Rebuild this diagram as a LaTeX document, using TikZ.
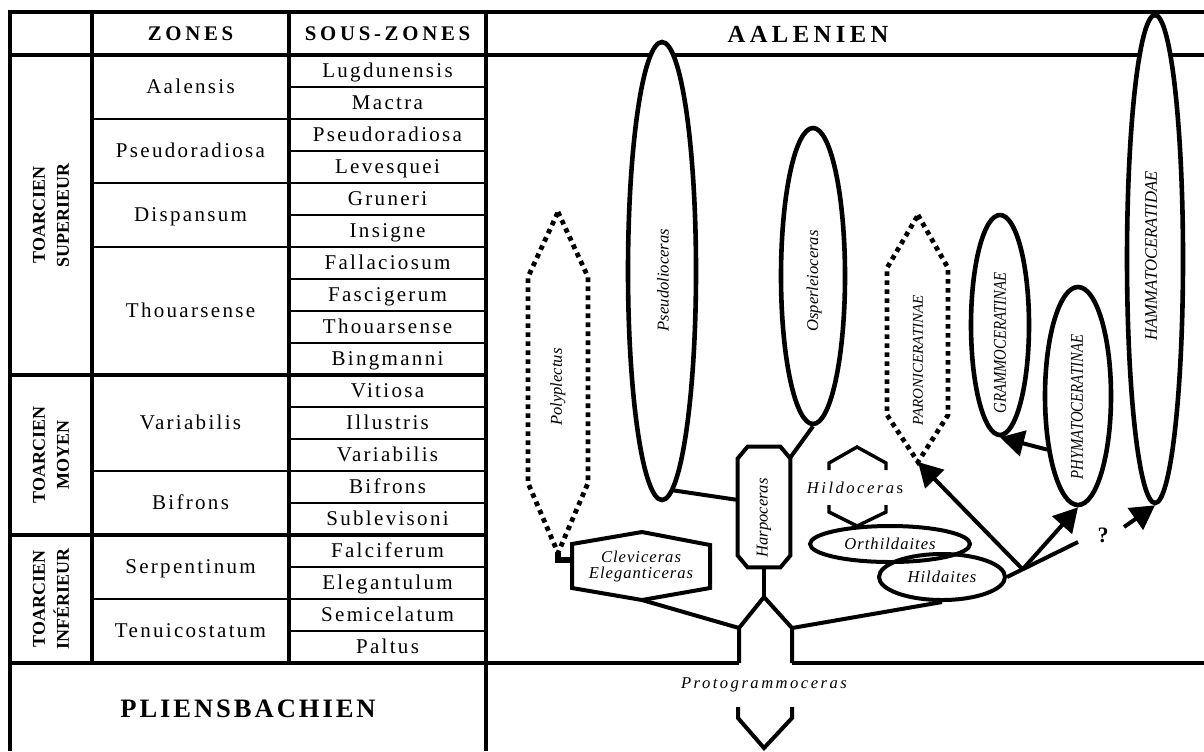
\documentclass[tikz,border=0pt]{standalone}
\usepackage{fontspec}
\setmainfont{Liberation Serif}
\newfontfamily\tabfont{Liberation Serif}[LetterSpace=11]
\newfontfamily\headfont{Liberation Serif}[LetterSpace=18]
\newfontfamily\taxfont{Liberation Serif}[LetterSpace=6]
\newfontfamily\widefont{Liberation Serif}[LetterSpace=15]
\usepackage{graphicx}
\usepackage{tikz}
\usetikzlibrary{positioning, arrows.meta, calc, shapes.geometric}

\tikzset{
  rule/.style={line width=1.7pt},
  hairline/.style={line width=0.65pt},
  tabtext/.style={font=\tabfont\fontsize{10.5}{12}\selectfont, inner sep=0pt,
                  text height=7.5pt, text depth=1.5pt},
  headtext/.style={font=\headfont\bfseries\fontsize{10.4}{12}\selectfont, inner sep=0pt},
  stage/.style={font=\bfseries\fontsize{9}{12}\selectfont, rotate=90, align=center, inner sep=0pt},
  lineage/.style={ellipse, draw, line width=2.3pt, fill=white, inner sep=0pt},
  genus/.style={ellipse, draw, line width=2pt, inner sep=0pt,
                font=\taxfont\itshape\fontsize{8.3}{10}\selectfont},
  rotlabel/.style={rotate=90, inner sep=0pt, font=\itshape\fontsize{8.3}{10}\selectfont},
  capslabel/.style={rotate=90, inner sep=0pt, font=\itshape\fontsize{9}{10}\selectfont},
  taxtext/.style={inner sep=0pt, align=center, font=\taxfont\itshape\fontsize{8.3}{8}\selectfont},
  branch/.style={line width=2pt},
  descent/.style={line width=2pt, -{Triangle[length=12pt, width=13pt]}},
  uncertain/.style={line width=2.4pt, dash pattern=on 2.3pt off 2.2pt},
}

\begin{document}
\begin{tikzpicture}[x=0.5pt, y=-0.5pt]
  \useasboundingbox (0,0) rectangle (1204,751);

  % chart of zones
  \draw[rule] (10,751) -- (10,12) -- (1204,12);
  \draw[rule] (10,55) -- (1204,55);
  \draw[rule] (92,12) -- (92,663);
  \draw[rule] (289,12) -- (289,663);
  \draw[rule] (486,12) -- (486,751);
  \foreach \k in {1,...,18}
    \draw[hairline] (289,{55+32*\k}) -- (486,{55+32*\k});
  \foreach \y in {119,183,247,471,599}
    \draw[hairline] (92,\y) -- (289,\y);
  \draw[rule] (10,375) -- (486,375);
  \draw[rule] (10,535) -- (486,535);

  \node[headtext] (zones) at (190.5,34) {ZONES};
  \node[headtext] (souszones) at (387.5,34) {SOUS-ZONES};
  \node[headtext, font=\headfont\bfseries\fontsize{12.3}{14}\selectfont] (aalenien) at (808,34) {AALENIEN};
  \node[font=\tabfont\bfseries\fontsize{13.3}{16}\selectfont] (pliens) at (248,709) {PLIENSBACHIEN};

  \node[stage] (tsup) at (51,215) {TOARCIEN\\SUPERIEUR};
  \node[stage] (tmoy) at (51,455) {TOARCIEN\\MOYEN};
  \node[stage] (tinf) at (51,599) {TOARCIEN\\INFÉRIEUR};

  \foreach \z/\y in {Aalensis/87, Pseudoradiosa/151, Dispansum/215, Thouarsense/311,
                     Variabilis/423, Bifrons/503, Serpentinum/567, Tenuicostatum/631}
    \node[tabtext] (z-\z) at (190.5,\y) {\z};
  \foreach \s [count=\k] in {Lugdunensis, Mactra, Pseudoradiosa, Levesquei, Gruneri,
                             Insigne, Fallaciosum, Fascigerum, Thouarsense, Bingmanni,
                             Vitiosa, Illustris, Variabilis, Bifrons, Sublevisoni,
                             Falciferum, Elegantulum, Semicelatum, Paltus}
    \node[tabtext] (sz\k) at (387.5,{39+32*\k}) {\s};

  % Protogrammoceras and the stem
  \node[taxtext, font=\widefont\itshape\fontsize{8.3}{10}\selectfont] (proto) at (764,685) {Protogrammoceras};
  \draw[branch] (739,663) coordinate (proto-sw) -- (739,628) coordinate (proto-w)
     -- (764,597) coordinate (proto-n) -- (792,628) coordinate (proto-e) -- (792,663) coordinate (proto-se);
  \draw[branch] (738,707) -- (738,718) -- (764,748) -- (792,718) -- (792,707);
  \draw[rule] (10,663) -- (proto-sw);
  \draw[rule] (proto-se) -- (1204,663);

  % lineages
  \node[lineage, minimum width=34pt, minimum height=229pt] (pseudo) at (662,271) {};
  \node[rotlabel] (pseudo-txt) at (663,280) {Pseudolioceras};
  \node[lineage, minimum width=32pt, minimum height=148pt] (osper) at (813,276) {};
  \node[rotlabel] (osper-txt) at (814,281) {Osperleioceras};
  \node[lineage, minimum width=29pt, minimum height=110pt] (gramm) at (1000,325) {};
  \node[capslabel] (gramm-txt) at (1000,343) {\scalebox{0.82}[1]{GRAMMOCERATINAE}};
  \node[lineage, minimum width=33pt, minimum height=109pt] (phyma) at (1078,396) {};
  \node[capslabel] (phyma-txt) at (1077,407) {\scalebox{0.82}[1]{PHYMATOCERATINAE}};
  \node[lineage, minimum width=28pt, minimum height=244pt] (hammato) at (1155,259) {};
  \node[capslabel, font=\itshape\fontsize{8.8}{10}\selectfont] (hammato-txt) at (1151,256) {\scalebox{0.95}[1]{HAMMATOCERATIDAE}};

  % Harpoceras
  \node[minimum width=26pt, minimum height=60pt, inner sep=0pt] (harpo) at (764,507) {};
  \draw[branch] ($(harpo.north west)+(10,0)$) -- ($(harpo.north east)+(-10,0)$)
     -- ($(harpo.north east)+(0,12)$) -- ($(harpo.south east)+(0,-12)$)
     -- ($(harpo.south east)+(-10,0)$) -- ($(harpo.south west)+(10,0)$)
     -- ($(harpo.south west)+(0,-12)$) -- ($(harpo.north west)+(0,12)$) -- cycle;
  \node[rotlabel] (harpo-txt) at (764,518) {Harpoceras};

  % Polyplectus
  \draw[uncertain] (558,212) -- (588,277) -- (588,483) -- (558,553) coordinate (poly-s)
     -- (528,483) -- (528,277) -- cycle;
  \node[rotlabel] (poly) at (558,387) {Polyplectus};

  % Paroniceratinae
  \draw[uncertain] (918,215) -- (948,268) -- (948,415) -- (918,462) coordinate (paron-s)
     -- (887,415) -- (887,268) -- cycle;
  \node[rotlabel, font=\itshape\fontsize{7.5}{9}\selectfont] (paron) at (918,360) {PARONICERATINAE};

  % Cleviceras
  \draw[branch] (572,544) -- (642,532) -- (710,545) -- (710,588) -- (642,600) coordinate (clev-s)
     -- (572,588) -- cycle;
  \coordinate (clev-w) at (572,560);
  \node[taxtext] (clev) at (641,566) {Cleviceras\\Eleganticeras};

  % Hildoceras
  \node[taxtext, font=\widefont\fontsize{8.3}{10}\selectfont] (hildo) at (855,488) {\textit{Hildocera}s};
  \draw[branch, line width=1.7pt] (829,470) -- (829,463) -- (857,447) -- (886,463) -- (886,470);
  \draw[branch, line width=1.7pt] (829,505) -- (829,512) -- (857,526) -- (886,512) -- (886,505);

  \node[genus, minimum width=80pt, minimum height=18pt] (orth) at (890,544) {Orthildaites};
  \node[genus, minimum width=63pt, minimum height=23pt] (hilda) at (942,577) {Hildaites};

  \node[font=\bfseries\fontsize{11}{12}\selectfont, inner sep=0pt] (qmark) at (1103,535) {?};
  \coordinate (qmark-end) at (1078,542);
  \coordinate (fork) at ($(hilda.east)!0.22!(qmark-end)$);
  \coordinate (hamm-tail) at (1124,527);

  % connectors
  \draw[branch] (harpo.south) -- (proto-n);
  \draw[branch] (pseudo.273) -- (harpo.165);
  \draw[branch] (osper.south) -- (harpo.62);
  \draw[branch] (clev-s) -- (proto-w);
  \draw[line width=3pt] (poly-s) |- (clev-w);
  \draw[branch] (proto-e) -- (hilda.south);
  \draw[branch] (hilda.east) -- (qmark-end);
  \draw[descent] (fork) -- (paron-s);
  \draw[descent] (fork) -- (phyma.south);
  \draw[descent] (phyma.240) -- (gramm.south);
  \draw[descent] (hamm-tail) -- (hammato.south);
\end{tikzpicture}
\end{document}
